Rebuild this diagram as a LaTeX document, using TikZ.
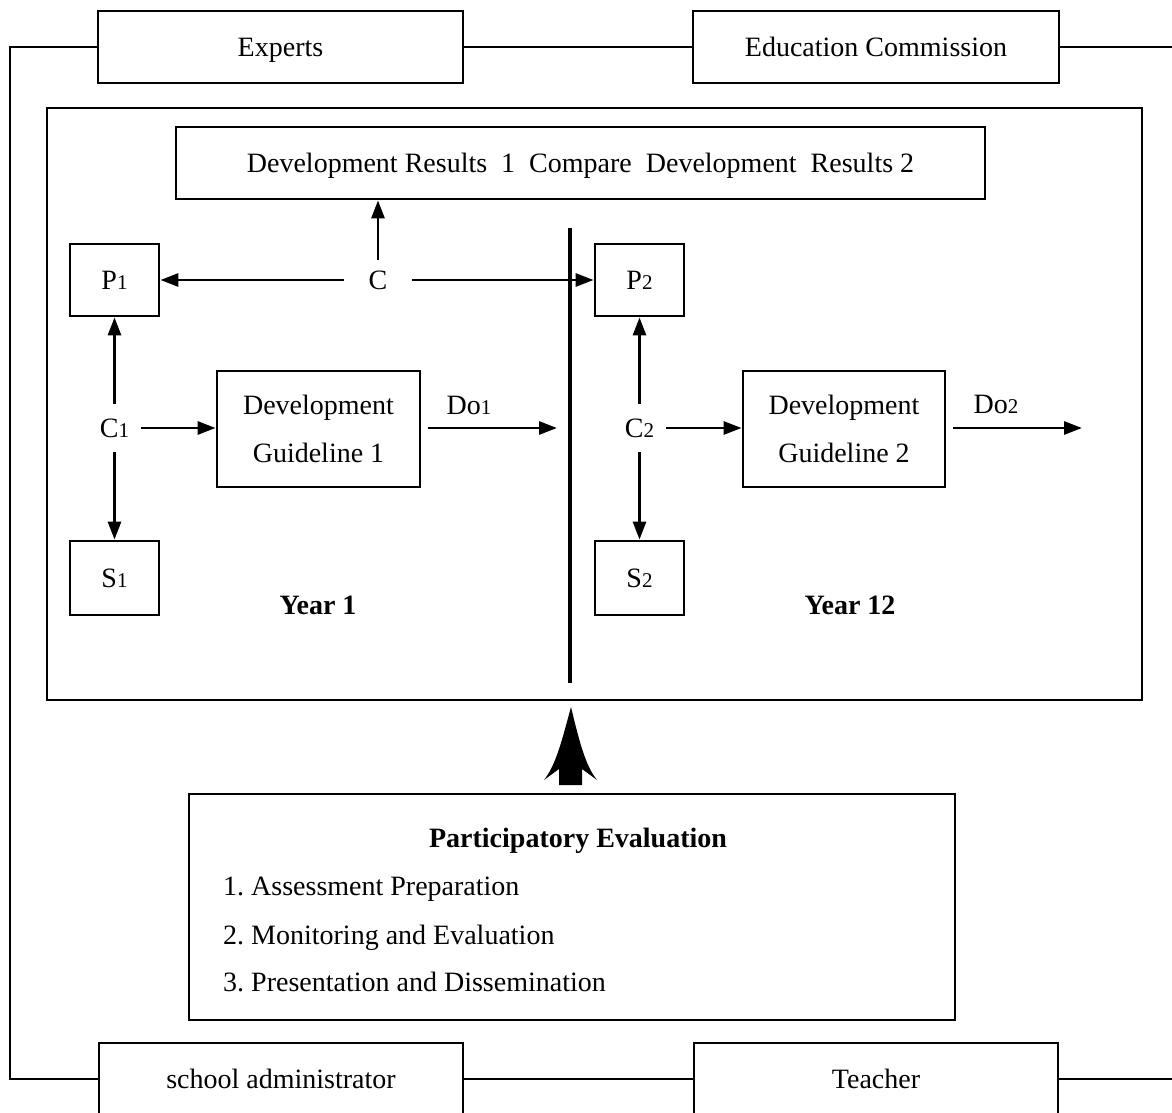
\documentclass[tikz,border=0pt]{standalone}
\usepackage{fontspec}
\setmainfont{Liberation Serif}
\usetikzlibrary{arrows.meta}
\frenchspacing
\tikzset{
  box/.style={draw, line width=2.8pt, rectangle, inner sep=0pt, align=center},
  one/.style={text height=25pt, text depth=6pt},
  lbl/.style={inner sep=0pt, align=center, one},
  conn/.style={line width=2.8pt},
  arr/.style={line width=2.8pt, -{Triangle[length=18pt,width=13pt]}},
  base/.style={font=\fontsize{28}{48}\selectfont}
}
\newcommand{\smdig}[1]{{\fontsize{21}{21}\selectfont #1}}
\begin{document}
\begin{tikzpicture}[x=1pt,y=-1pt,base]
\useasboundingbox (0,0) rectangle (1172,1113);
% outer frame nodes
\node[box, one, minimum width=365pt, minimum height=72pt] (exp) at (280.5,47) {Experts};
\node[box, one, minimum width=366pt, minimum height=72pt] (edu) at (876,47) {Education Commission};
\node[box, one, minimum width=364pt, minimum height=72pt] (adm) at (281,1079) {school administrator};
\node[box, one, minimum width=364pt, minimum height=72pt] (tea) at (876,1079) {Teacher};
\coordinate (tl) at (10,47);
\coordinate (bl) at (10,1079);
\coordinate (tr) at (1172,47);
\coordinate (br) at (1172,1079);
\draw[conn] (exp.west) -- (tl) -- (bl) -- (adm.west);
\draw[conn] (exp.east) -- (edu.west);
\draw[conn] (edu.east) -- (tr);
\draw[conn] (adm.east) -- (tea.west);
\draw[conn] (tea.east) -- (br);
% main box
\node[box, minimum width=1095pt, minimum height=592pt] (main) at (594.5,404) {};
\node[box, one, minimum width=809pt, minimum height=72pt] (dr) at (580.5,163)
  {Development Results\ \ 1\ \ Compare\ \ Development\ \ Results 2};
\node[box, one, minimum width=89pt, minimum height=72pt] (p1) at (114.5,280) {P\smdig{1}};
\node[box, one, minimum width=89pt, minimum height=72pt] (p2) at (639.5,280) {P\smdig{2}};
\node[lbl, minimum width=68pt, minimum height=40pt] (c) at (378,280) {C};
\node[lbl, minimum width=52pt, minimum height=48pt] (c1) at (114.5,428) {C\smdig{1}};
\node[lbl, minimum width=52pt, minimum height=48pt] (c2) at (639.5,428) {C\smdig{2}};
\node[box, minimum width=203pt, minimum height=116pt] (dg1) at (318.5,429) {Development\\Guideline 1};
\node[box, minimum width=202pt, minimum height=116pt] (dg2) at (844,429) {Development\\Guideline 2};
\node[box, one, minimum width=89pt, minimum height=74pt] (s1) at (114.5,578) {S\smdig{1}};
\node[box, one, minimum width=89pt, minimum height=74pt] (s2) at (639.5,578) {S\smdig{2}};
\node[lbl] (y1) at (318,605) {\bfseries Year 1};
\node[lbl] (y12) at (850,605) {\bfseries Year 12};
\node[lbl] (do1) at (469,405) {Do\smdig{1}};
\node[lbl] (do2) at (996,404) {Do\smdig{2}};
\coordinate (do1end) at (557,428);
\coordinate (do2end) at (1082,428);
\coordinate (vt) at (570,228);
\coordinate (vb) at (570,683);
\draw[line width=3.6pt] (vt) -- (vb);
\draw[arr] (c.north) -- (c.north |- dr.south);
\draw[arr] (c.west) -- (p1.east);
\draw[arr] (c.east) -- (p2.west);
\draw[arr] (c1.north) -- (p1.south);
\draw[arr] (c1.south) -- (s1.north);
\draw[arr] (c1.east) -- (c1.east -| dg1.west);
\draw[arr] ([xshift=7pt]dg1.east |- do1end) -- (do1end);
\draw[arr] (c2.north) -- (p2.south);
\draw[arr] (c2.south) -- (s2.north);
\draw[arr] (c2.east) -- (c2.east -| dg2.west);
\draw[arr] ([xshift=7pt]dg2.east |- do2end) -- (do2end);
% participatory evaluation
\node[box, minimum width=766pt, minimum height=226pt] (pe) at (572,907) {};
\node[lbl] (pet) at (578,838) {\bfseries Participatory Evaluation};
\node[lbl, anchor=west] (pe1) at (223,886) {1. Assessment Preparation};
\node[lbl, anchor=west] (pe2) at (223,935) {2. Monitoring and Evaluation};
\node[lbl, anchor=west] (pe3) at (223,982) {3. Presentation and Dissemination};
% big arrow
\fill (571,707) .. controls (562,740) and (556,765) .. (544,780)
  -- (559,769) -- (559,785) -- (582,785) -- (582,769) -- (597,780)
  .. controls (585,765) and (579,740) .. (571,707) -- cycle;
\end{tikzpicture}
\end{document}
